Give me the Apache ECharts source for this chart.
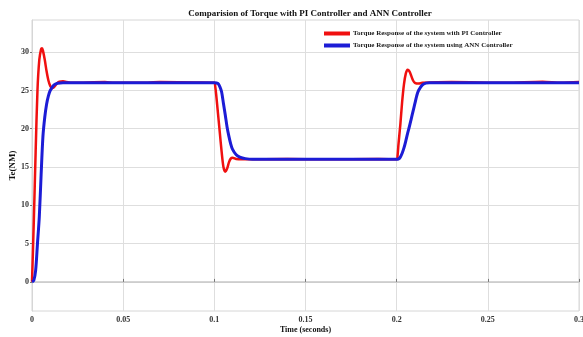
<!DOCTYPE html>
<html>
<head>
<meta charset="utf-8">
<script src="https://cdn.jsdelivr.net/npm/echarts@6/dist/echarts.min.js"></script>
<style>
  html, body { margin: 0; padding: 0; background: #fff; }
  #main { width: 583px; height: 337px; }
</style>
</head>
<body>
<div id="main"></div>
<script>
// time (s) / torque (NM)
const piTime = [0, 0.001, 0.002, 0.003, 0.004, 0.005, 0.0055, 0.006, 0.007, 0.008, 0.009, 0.010, 0.011, 0.012, 0.013, 0.014, 0.015, 0.017, 0.019, 0.022,
  0.04, 0.045, 0.06, 0.07, 0.09, 0.1,
  0.1005, 0.101, 0.102, 0.103, 0.104, 0.105, 0.106, 0.107, 0.108, 0.109, 0.110, 0.112, 0.115,
  0.14, 0.16, 0.19, 0.2,
  0.2005, 0.201, 0.202, 0.203, 0.204, 0.205, 0.206, 0.207, 0.208, 0.209, 0.210, 0.212, 0.214,
  0.23, 0.26, 0.28, 0.29, 0.3];
const piTorque = [0, 8, 17, 25, 29, 30.4, 30.5, 30.2, 29, 27.5, 26.3, 25.6, 25.3, 25.4, 25.7, 26.0, 26.15, 26.2, 26.1, 26,
  26.1, 26, 26, 26.1, 26.05, 26,
  25.5, 24.5, 22, 19.5, 17, 15, 14.4, 14.8, 15.6, 16.1, 16.2, 16.05, 16,
  16.05, 16, 16.05, 16,
  16.5, 18, 20.5, 23.5, 25.8, 27.2, 27.7, 27.5, 26.9, 26.3, 26.0, 25.9, 26.0,
  26.1, 26, 26.15, 26, 26.1];

const annTime = [0, 0.001, 0.002, 0.003, 0.004, 0.005, 0.006, 0.007, 0.008, 0.009, 0.010, 0.012, 0.014, 0.017,
  0.1, 0.102, 0.103, 0.104, 0.105, 0.106, 0.107, 0.108, 0.109, 0.110, 0.112, 0.114, 0.117, 0.121,
  0.2, 0.201, 0.202, 0.203, 0.204, 0.205, 0.206, 0.207, 0.208, 0.209, 0.210, 0.211, 0.212, 0.214, 0.216, 0.218, 0.3];
const annTorque = [0, 0.2, 1.5, 5, 8.5, 14, 19, 21.5, 23.2, 24.3, 25, 25.7, 25.95, 26,
  26, 25.9, 25.5, 24.8, 23.3, 21.8, 20.2, 19, 18, 17.3, 16.6, 16.3, 16.1, 16,
  16, 16.05, 16.3, 16.8, 17.5, 18.4, 19.4, 20.3, 21.3, 22.3, 23.3, 24.3, 25, 25.7, 25.95, 26, 26];

const yTicks = [0, 5, 10, 15, 20, 25, 30];

const seriesNames = ['Torque Response of the system with PI Controller', 'Torque Response of the system using ANN Controller'];

const font = 'Liberation Serif';

const myChart = echarts.init(document.getElementById('main'));
myChart.setOption({
  animation: false,
  title: {
    text: 'Comparision of Torque with PI Controller and ANN Controller',
    left: 305, top: 4, textAlign: 'center',
    textStyle: { fontFamily: font, fontSize: 9, fontWeight: 'bold', color: '#111' }
  },
  legend: {
    data: seriesNames,
    orient: 'vertical',
    left: 319, top: 25,
    itemWidth: 26, itemHeight: 4, itemGap: 5,
    icon: 'rect',
    textStyle: { fontFamily: font, fontSize: 7, fontWeight: 'bold', color: '#222', padding: [0, 0, 0, -2] }
  },
  grid: {
    left: 32, right: 4, top: 20, bottom: 26,
    outerBoundsMode: 'none',
    show: true, borderColor: '#d6d6d6', borderWidth: 1
  },
  xAxis: {
    type: 'value', min: 0, max: 0.3, interval: 0.05,
    name: 'Time (seconds)', nameLocation: 'middle', nameGap: 15, nameMoveOverlap: false,
    nameTextStyle: { fontFamily: font, fontSize: 8, fontWeight: 'bold', color: '#111' },
    axisLine: { show: true, lineStyle: { color: '#c8c8c8', width: 1.5 } },
    axisTick: { show: true, inside: true, length: 3, lineStyle: { color: '#777' } },
    axisLabel: { fontFamily: font, fontSize: 8, fontWeight: 'bold', color: '#333', margin: 5 },
    splitLine: { show: true, lineStyle: { color: '#dedede', width: 1 } }
  },
  yAxis: {
    type: 'value', min: -3.8, max: 34.2,
    name: 'Te(NM)', nameLocation: 'middle', nameGap: 14.5, nameRotate: 90, nameMoveOverlap: false,
    nameTextStyle: { fontFamily: font, fontSize: 9, fontWeight: 'bold', color: '#111' },
    axisLine: { show: true, lineStyle: { color: '#d6d6d6' } },
    axisTick: { show: true, inside: false, length: 2, customValues: yTicks, lineStyle: { color: '#777' } },
    axisLabel: { fontFamily: font, fontSize: 8, fontWeight: 'bold', color: '#333', margin: 3, customValues: yTicks },
    splitLine: { show: true, lineStyle: { color: '#dedede', width: 1 } }
  },
  series: [
    {
      name: seriesNames[0], type: 'line', showSymbol: false, smooth: 0.3,
      color: '#f01010',
      lineStyle: { width: 2.5, color: '#f01010' },
      data: piTime.map((t, i) => [t, piTorque[i]])
    },
    {
      name: seriesNames[1], type: 'line', showSymbol: false, smooth: 0.3,
      color: '#1c1cd6',
      lineStyle: { width: 3, color: '#1c1cd6' },
      data: annTime.map((t, i) => [t, annTorque[i]])
    }
  ]
});
</script>
</body>
</html>
